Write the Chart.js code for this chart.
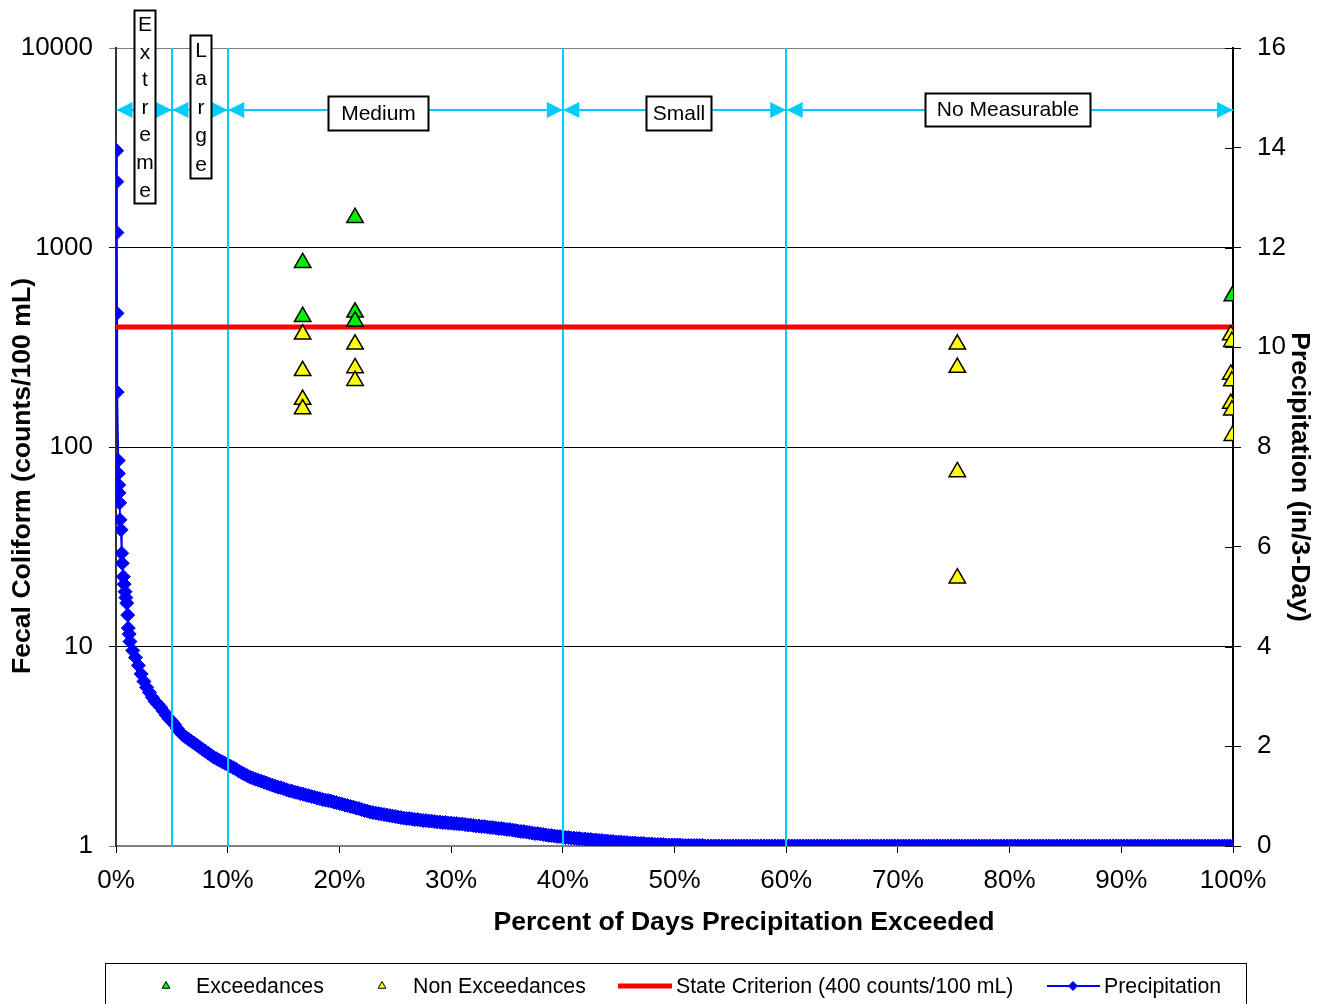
<!DOCTYPE html>
<html>
<head>
<meta charset="utf-8">
<script src="https://cdn.jsdelivr.net/npm/chart.js@4.4.1/dist/chart.umd.min.js"></script>
<style>
  html, body { margin: 0; padding: 0; background: #fff; }
  #wrap { width: 1320px; height: 1004px; }
</style>
</head>
<body>
<div id="wrap"><canvas id="c" width="1320" height="1004"></canvas></div>
<script>
// ---- Flow-zone bands (percent of days precipitation exceeded) ----
const zoneBounds = [0, 5, 10, 40, 60, 100];
const zoneNames = ['Extreme', 'Large', 'Medium', 'Small', 'No Measurable'];

// ---- Fecal coliform samples (counts/100 mL) ----
const exceedPct = [16.71, 16.71, 21.40, 21.40, 21.40, 99.94];
const exceedValue = [839, 450, 1411, 473, 427, 571];

const nonExceedPct = [16.71, 16.71, 16.71, 16.71, 21.40, 21.40, 21.40,
  75.32, 75.32, 75.32, 75.32,
  99.80, 99.90, 99.80, 99.90, 99.80, 99.90, 99.94];
const nonExceedValue = [367, 241, 173, 155, 327, 249, 215,
  327, 250, 75, 22,
  364, 337, 231, 214, 165, 153, 114];

// ---- State criterion ----
const criterionPct = [0, 100];
const criterionValue = [400, 400];

// ---- Precipitation duration curve (in/3-Day) ----
// steep head of the curve, individual days
const precipHeadPct = [0.06, 0.07, 0.08, 0.09, 0.10, 0.20, 0.21, 0.24, 0.27, 0.33, 0.36,
  0.45, 0.51, 0.56, 0.65, 0.73, 0.81, 0.88, 0.96, 1.05, 1.10, 1.18];
const precipHeadIn = [13.94, 13.32, 12.30, 10.68, 9.10, 7.73, 7.47, 7.24, 7.08, 6.88, 6.54,
  6.34, 5.87, 5.67, 5.40, 5.25, 5.10, 4.98, 4.87, 4.63, 4.37, 4.25];
// remainder of the curve, one value every 0.25 % starting at 1.25 %
const precipBodyStart = 1.25;
const precipBodyStep = 0.25;
const precipBodyIn = [
  4.10, 3.92, 3.78, 3.62, 3.45, 3.30, 3.18, 3.08, 2.98, 2.90, 2.84, 2.78, 2.70, 2.62, 2.55, 2.50, 2.43, 2.35, 2.28, 2.22,
  2.18, 2.14, 2.10, 2.06, 2.02, 1.98, 1.94, 1.90, 1.86, 1.82, 1.78, 1.75, 1.72, 1.69, 1.66, 1.63, 1.60, 1.57, 1.54, 1.50,
  1.47, 1.44, 1.41, 1.38, 1.36, 1.34, 1.32, 1.30, 1.28, 1.26, 1.24, 1.22, 1.20, 1.18, 1.17, 1.15, 1.13, 1.11, 1.10, 1.08,
  1.07, 1.05, 1.04, 1.02, 1.01, 0.99, 0.98, 0.96, 0.95, 0.93, 0.92, 0.91, 0.90, 0.88, 0.87, 0.85, 0.84, 0.82, 0.81, 0.79,
  0.78, 0.76, 0.75, 0.73, 0.71, 0.70, 0.68, 0.67, 0.66, 0.65, 0.64, 0.63, 0.62, 0.61, 0.60, 0.59, 0.58, 0.57, 0.56, 0.55,
  0.55, 0.54, 0.53, 0.53, 0.52, 0.51, 0.51, 0.50, 0.50, 0.49, 0.48, 0.48, 0.47, 0.47, 0.46, 0.46, 0.45, 0.45, 0.44, 0.44,
  0.43, 0.42, 0.42, 0.41, 0.40, 0.40, 0.39, 0.39, 0.38, 0.37, 0.37, 0.36, 0.35, 0.35, 0.34, 0.33, 0.33, 0.32, 0.31, 0.30,
  0.29, 0.29, 0.28, 0.27, 0.26, 0.25, 0.25, 0.24, 0.23, 0.22, 0.21, 0.21, 0.20, 0.19, 0.19, 0.18, 0.17, 0.17, 0.16, 0.16,
  0.15, 0.15, 0.14, 0.14, 0.13, 0.13, 0.12, 0.12, 0.11, 0.11, 0.10, 0.10, 0.09, 0.09, 0.08, 0.08, 0.08, 0.07, 0.07, 0.06,
  0.06, 0.06, 0.05, 0.05, 0.05, 0.04, 0.04, 0.04, 0.03, 0.03, 0.03, 0.03, 0.02, 0.02, 0.02, 0.02, 0.02, 0.02, 0.01, 0.01,
  0.01, 0.01, 0.01, 0.01, 0.01, 0.01, 0, 0, 0, 0, 0, 0, 0, 0, 0, 0, 0, 0, 0, 0,
  0, 0, 0, 0, 0, 0, 0, 0, 0, 0, 0, 0, 0, 0, 0, 0, 0, 0, 0, 0,
  0, 0, 0, 0, 0, 0, 0, 0, 0, 0, 0, 0, 0, 0, 0, 0, 0, 0, 0, 0,
  0, 0, 0, 0, 0, 0, 0, 0, 0, 0, 0, 0, 0, 0, 0, 0, 0, 0, 0, 0,
  0, 0, 0, 0, 0, 0, 0, 0, 0, 0, 0, 0, 0, 0, 0, 0, 0, 0, 0, 0,
  0, 0, 0, 0, 0, 0, 0, 0, 0, 0, 0, 0, 0, 0, 0, 0, 0, 0, 0, 0,
  0, 0, 0, 0, 0, 0, 0, 0, 0, 0, 0, 0, 0, 0, 0, 0, 0, 0, 0, 0,
  0, 0, 0, 0, 0, 0, 0, 0, 0, 0, 0, 0, 0, 0, 0, 0, 0, 0, 0, 0,
  0, 0, 0, 0, 0, 0, 0, 0, 0, 0, 0, 0, 0, 0, 0, 0, 0, 0, 0, 0,
  0, 0, 0, 0, 0, 0, 0, 0, 0, 0, 0, 0, 0, 0, 0, 0
];

// ---- Tick labels ----
const leftTicks = [1, 10, 100, 1000, 10000];
const rightTicks = [0, 2, 4, 6, 8, 10, 12, 14, 16];

const labels = {
  exceed: 'Exceedances',
  nonExceed: 'Non Exceedances',
  criterion: 'State Criterion (400 counts/100 mL)',
  precip: 'Precipitation',
  yLeft: 'Fecal Coliform (counts/100 mL)',
  yRight: 'Precipitation (in/3-Day)',
  x: 'Percent of Days Precipitation Exceeded'
};

const FONT = 'Arial, "Liberation Sans", sans-serif';
const CYAN = '#00CCFF';
const GREEN = '#00EE00';
const YELLOW = '#FFFF00';
const RED = '#FF0000';
const BLUE = '#0000FF';

const pairs = (xs, ys) => xs.map((x, i) => ({ x, y: ys[i] }));
const precipData = pairs(precipHeadPct, precipHeadIn).concat(
  precipBodyIn.map((v, i) => ({ x: precipBodyStart + i * precipBodyStep, y: v })));

// zone label boxes: width, height, horizontal shift from zone centre, vertical placement
const zoneBox = [
  { w: 21, h: 193, dx: 0, top: 10, vertical: true },
  { w: 21, h: 143, dx: 0, top: 35, vertical: true },
  { w: 100, h: 34, dx: -18, cy: 113 },
  { w: 65, h: 34, dx: 4, cy: 113 },
  { w: 165, h: 33, dx: -2, cy: 109.5 }
];
const ARROW_Y = 110;

function drawTriangle(ctx, x, y, r, fill) {
  ctx.beginPath();
  for (let k = 0; k < 3; k++) {
    const a = -Math.PI / 2 + k * 2 * Math.PI / 3;
    const px = x + Math.cos(a) * r, py = y + Math.sin(a) * r;
    k ? ctx.lineTo(px, py) : ctx.moveTo(px, py);
  }
  ctx.closePath();
  ctx.fillStyle = fill; ctx.fill();
  ctx.lineWidth = 1; ctx.strokeStyle = '#000'; ctx.stroke();
}

const decorPlugin = {
  id: 'decor',
  beforeDatasetDraw(chart, args) {
    // zone boundaries sit above the precipitation curve but under the criterion line
    if (chart.data.datasets[args.index].label !== labels.criterion) return;
    const { ctx, chartArea: a, scales: { x } } = chart;
    ctx.save();
    ctx.strokeStyle = CYAN; ctx.lineWidth = 2;
    zoneBounds.slice(1, -1).forEach(b => {
      const px = Math.round(x.getPixelForValue(b));
      ctx.beginPath(); ctx.moveTo(px, a.top); ctx.lineTo(px, a.bottom); ctx.stroke();
    });
    ctx.restore();
  },
  afterDraw(chart) {
    const { ctx, chartArea: a, scales: { x, y1 } } = chart;
    ctx.save();

    // inner half of the right-axis tick marks
    ctx.strokeStyle = '#000'; ctx.lineWidth = 1;
    rightTicks.forEach(v => {
      const py = Math.round(y1.getPixelForValue(v)) + 0.5;
      ctx.beginPath(); ctx.moveTo(a.right - 8, py); ctx.lineTo(a.right, py); ctx.stroke();
    });

    // zone arrows and labels
    for (let i = 0; i < zoneNames.length; i++) {
      const x0 = x.getPixelForValue(zoneBounds[i]) + 0.5;
      const x1 = x.getPixelForValue(zoneBounds[i + 1]);
      ctx.strokeStyle = CYAN; ctx.fillStyle = CYAN; ctx.lineWidth = 2;
      ctx.beginPath(); ctx.moveTo(x0, ARROW_Y); ctx.lineTo(x1, ARROW_Y); ctx.stroke();
      ctx.beginPath();
      ctx.moveTo(x0, ARROW_Y); ctx.lineTo(x0 + 16, ARROW_Y - 8); ctx.lineTo(x0 + 16, ARROW_Y + 8); ctx.closePath();
      ctx.fill();
      ctx.beginPath();
      ctx.moveTo(x1, ARROW_Y); ctx.lineTo(x1 - 16, ARROW_Y - 8); ctx.lineTo(x1 - 16, ARROW_Y + 8); ctx.closePath();
      ctx.fill();

      const b = zoneBox[i];
      const cx = (x0 + x1) / 2 + b.dx;
      const left = Math.round(cx - b.w / 2) + 0.5;
      const top = b.vertical ? b.top + 0.5 : Math.round(b.cy - b.h / 2) + 0.5;
      ctx.fillStyle = '#fff';
      ctx.fillRect(left, top, b.w, b.h);
      ctx.strokeStyle = '#000'; ctx.lineWidth = 2;
      ctx.strokeRect(left, top, b.w, b.h);
      ctx.fillStyle = '#000';
      ctx.font = '21px ' + FONT;
      ctx.textAlign = 'center'; ctx.textBaseline = 'middle';
      if (b.vertical) {
        const chars = zoneNames[i].split('');
        const step = b.h / chars.length;
        chars.forEach((ch, k) => ctx.fillText(ch, left + b.w / 2, top + step * (k + 0.5) + 1));
      } else {
        ctx.fillText(zoneNames[i], left + b.w / 2, b.cy + 1);
      }
    }

    // axis titles
    ctx.fillStyle = '#000';
    ctx.font = 'bold 26.6px ' + FONT;
    ctx.textAlign = 'center'; ctx.textBaseline = 'middle';
    ctx.fillText(labels.x, 744, 923);
    ctx.save();
    ctx.translate(23, 476); ctx.rotate(-Math.PI / 2);
    ctx.fillText(labels.yLeft, 0, 0);
    ctx.restore();
    ctx.save();
    ctx.translate(1299, 477); ctx.rotate(Math.PI / 2);
    ctx.fillText(labels.yRight, 0, 0);
    ctx.restore();

    // legend
    ctx.strokeStyle = '#000'; ctx.lineWidth = 1;
    ctx.strokeRect(105.5, 963.5, 1141, 60);
    const ly = 987;
    ctx.font = '21.3px ' + FONT;
    ctx.textAlign = 'left'; ctx.textBaseline = 'middle';
    drawTriangle(ctx, 166, ly - 1, 4.5, GREEN);
    ctx.fillStyle = '#000'; ctx.fillText(labels.exceed, 196, ly);
    drawTriangle(ctx, 382, ly - 1, 4.5, YELLOW);
    ctx.fillStyle = '#000'; ctx.fillText(labels.nonExceed, 413, ly);
    ctx.strokeStyle = RED; ctx.lineWidth = 5;
    ctx.beginPath(); ctx.moveTo(618, ly - 1); ctx.lineTo(672, ly - 1); ctx.stroke();
    ctx.fillStyle = '#000'; ctx.fillText(labels.criterion, 676, ly);
    ctx.strokeStyle = BLUE; ctx.lineWidth = 2;
    ctx.beginPath(); ctx.moveTo(1047, ly - 1); ctx.lineTo(1100, ly - 1); ctx.stroke();
    ctx.fillStyle = BLUE;
    ctx.beginPath(); ctx.moveTo(1073 - 5, ly - 1); ctx.lineTo(1073, ly - 6); ctx.lineTo(1073 + 5, ly - 1); ctx.lineTo(1073, ly + 4); ctx.closePath(); ctx.fill();
    ctx.fillStyle = '#000'; ctx.fillText(labels.precip, 1104, ly);

    ctx.restore();
  }
};

Chart.defaults.font.family = FONT;
Chart.defaults.color = '#000';

new Chart(document.getElementById('c'), {
  type: 'scatter',
  data: {
    datasets: [
      {
        label: labels.exceed, data: pairs(exceedPct, exceedValue), yAxisID: 'y', order: 0,
        pointStyle: 'triangle', pointRadius: 9.5, backgroundColor: GREEN,
        borderColor: '#000', borderWidth: 1.5, showLine: false
      },
      {
        label: labels.nonExceed, data: pairs(nonExceedPct, nonExceedValue), yAxisID: 'y', order: 1,
        pointStyle: 'triangle', pointRadius: 9.5, backgroundColor: YELLOW,
        borderColor: '#000', borderWidth: 1.5, showLine: false
      },
      {
        label: labels.criterion, data: pairs(criterionPct, criterionValue), yAxisID: 'y', order: 2,
        showLine: true, borderColor: RED, borderWidth: 5, pointRadius: 0, fill: false
      },
      {
        label: labels.precip, data: precipData, yAxisID: 'y1', order: 3,
        showLine: true, borderColor: BLUE, borderWidth: 2, tension: 0, fill: false,
        pointStyle: 'rectRot', pointRadius: 7, pointBackgroundColor: BLUE,
        pointBorderColor: BLUE, pointBorderWidth: 1
      }
    ]
  },
  options: {
    responsive: false,
    animation: false,
    devicePixelRatio: 1,
    layout: { padding: { top: 48, left: 0, right: 0, bottom: 0 } },
    plugins: { legend: { display: false }, tooltip: { enabled: false } },
    scales: {
      x: {
        type: 'linear', position: 'bottom', min: 0, max: 100,
        afterFit: s => { s.height = 158; },
        ticks: { stepSize: 10, callback: v => v + '%', font: { size: 26 }, padding: 12, maxRotation: 0 },
        grid: { drawOnChartArea: false, drawTicks: true, tickLength: 7, color: '#000' },
        border: { color: '#808080', width: 2 }
      },
      y: {
        type: 'logarithmic', position: 'left', min: 1, max: 10000,
        afterFit: s => { s.width = 116; },
        afterBuildTicks: s => { s.ticks = leftTicks.map(v => ({ value: v })); },
        ticks: { callback: v => String(v), font: { size: 26 }, padding: 16 },
        grid: {
          tickLength: 7, lineWidth: 1,
          color: c => (c.tick && (c.tick.value === 10000 || c.tick.value === 1)) ? '#808080' : '#000'
        },
        border: { color: '#333', width: 2 }
      },
      y1: {
        type: 'linear', position: 'right', min: 0, max: 16,
        afterFit: s => { s.width = 87; },
        afterBuildTicks: s => { s.ticks = rightTicks.map(v => ({ value: v })); },
        ticks: { font: { size: 26 }, padding: 16 },
        grid: { drawOnChartArea: false, tickLength: 8, color: '#000' },
        border: { color: '#000', width: 2 }
      }
    }
  },
  plugins: [decorPlugin]
});
</script>
</body>
</html>
